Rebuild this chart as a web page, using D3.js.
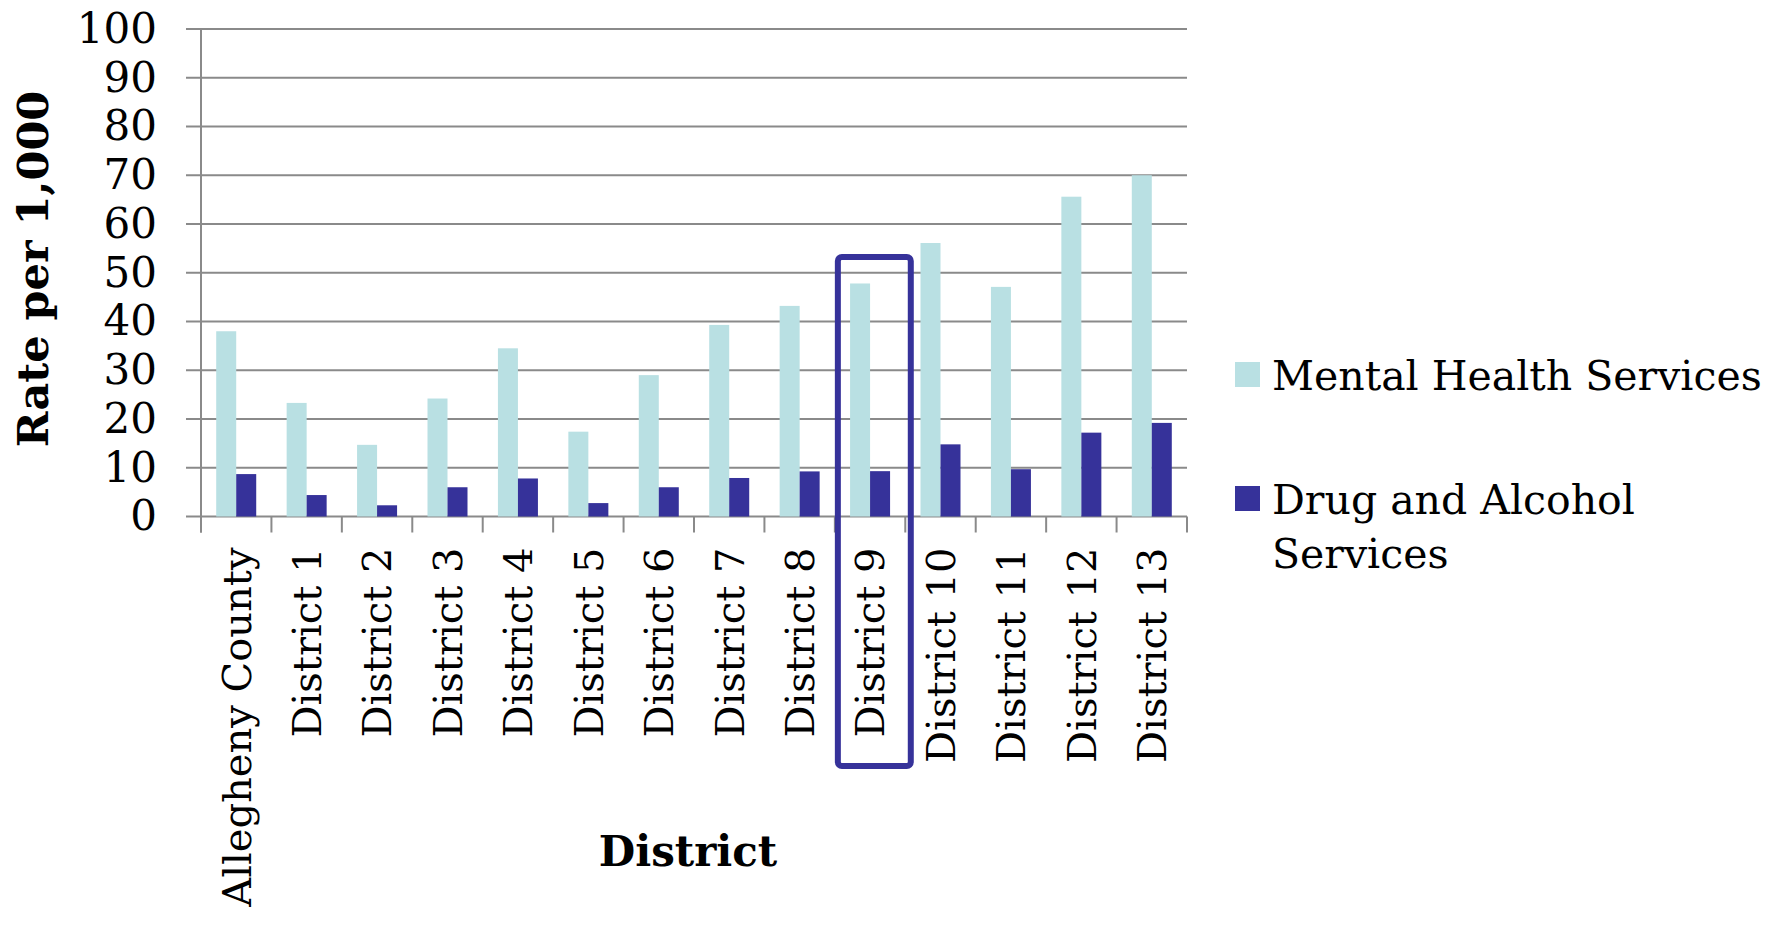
<!DOCTYPE html>
<html>
<head>
<meta charset="utf-8">
<script src="https://cdn.jsdelivr.net/npm/d3@7"></script>
<style>
  body { margin: 0; background: #fff; }
  svg { display: block; font-family: 'DejaVu Serif', 'Liberation Serif', serif; }
</style>
</head>
<body>
<svg id="chart" width="1777" height="930"></svg>
<script>
const categories = ['Allegheny County', 'District 1', 'District 2', 'District 3', 'District 4',
  'District 5', 'District 6', 'District 7', 'District 8', 'District 9', 'District 10',
  'District 11', 'District 12', 'District 13'];
const seriesNames = ['Mental Health Services', 'Drug and Alcohol Services'];
const mentalHealth = [38.0, 23.3, 14.7, 24.2, 34.5, 17.4, 29.0, 39.3, 43.2, 47.8, 56.1, 47.1, 65.6, 70.0];
const drugAlcohol = [8.7, 4.4, 2.3, 6.0, 7.8, 2.75, 6.0, 7.9, 9.25, 9.3, 14.8, 9.7, 17.2, 19.2];
const yTicks = [0, 10, 20, 30, 40, 50, 60, 70, 80, 90, 100];
const highlighted = 'District 9';

const colors = ['#b9e0e3', '#36329a'];
const gridColor = '#8a8a8a';

const plotLeft = 201, plotRight = 1187, plotTop = 29, plotBottom = 516.5;

const svg = d3.select('#chart');

const x0 = d3.scaleBand().domain(categories).range([plotLeft, plotRight]).padding(0);
const x1 = d3.scaleBand().domain(seriesNames)
  .range([x0.bandwidth() * 0.216, x0.bandwidth() * 0.784]).padding(0);
const y = d3.scaleLinear().domain([0, 100]).range([plotBottom, plotTop]);

// gridlines
svg.append('g')
  .selectAll('line')
  .data(yTicks)
  .join('line')
    .attr('x1', plotLeft - 15)
    .attr('x2', plotRight)
    .attr('y1', d => y(d))
    .attr('y2', d => y(d))
    .attr('stroke', gridColor)
    .attr('stroke-width', 2);

// y axis labels
const yAxis = svg.append('g')
  .attr('transform', `translate(${plotLeft},0)`)
  .call(d3.axisLeft(y).tickValues(yTicks).tickSize(0).tickPadding(44));
yAxis.select('.domain').remove();
yAxis.selectAll('text')
  .attr('font-family', 'DejaVu Serif')
  .attr('font-size', 42)
  .attr('fill', '#000');

// bars
const rows = categories.map((c, i) => ({ c, values: [mentalHealth[i], drugAlcohol[i]] }));
svg.append('g')
  .selectAll('g')
  .data(rows)
  .join('g')
    .attr('transform', d => `translate(${x0(d.c)},0)`)
  .selectAll('rect')
  .data(d => d.values.map((v, k) => ({ key: seriesNames[k], v, k })))
  .join('rect')
    .attr('x', d => x1(d.key))
    .attr('width', x1.bandwidth())
    .attr('y', d => y(d.v))
    .attr('height', d => y(0) - y(d.v))
    .attr('fill', d => colors[d.k]);

// axis lines and category ticks
svg.append('line')
  .attr('x1', plotLeft).attr('x2', plotLeft)
  .attr('y1', plotTop).attr('y2', plotBottom + 16)
  .attr('stroke', gridColor).attr('stroke-width', 2);
const bounds = categories.map(c => x0(c)).concat([plotRight]);
svg.append('g')
  .selectAll('line')
  .data(bounds)
  .join('line')
    .attr('x1', d => d).attr('x2', d => d)
    .attr('y1', plotBottom).attr('y2', plotBottom + 16)
    .attr('stroke', gridColor).attr('stroke-width', 2);

// x axis labels
const xAxis = svg.append('g')
  .attr('transform', `translate(0,${plotBottom})`)
  .call(d3.axisBottom(x0).tickSize(0));
xAxis.select('.domain').remove();
xAxis.selectAll('text')
  .attr('font-family', 'DejaVu Serif')
  .attr('font-size', 40)
  .attr('fill', '#000')
  .attr('text-anchor', 'end')
  .attr('transform', 'rotate(-90)')
  .attr('x', -31)
  .attr('y', 0)
  .attr('dy', '0.36em');

// highlight box around District 9
svg.append('rect')
  .attr('x', x0(highlighted) + 3)
  .attr('y', 257)
  .attr('width', x0.step() + 2.5)
  .attr('height', 509)
  .attr('rx', 4)
  .attr('fill', 'none')
  .attr('stroke', colors[1])
  .attr('stroke-width', 6);

// axis titles
svg.append('text')
  .attr('transform', 'rotate(-90)')
  .attr('x', -269)
  .attr('y', 48)
  .attr('text-anchor', 'middle')
  .attr('font-size', 43)
  .attr('font-weight', 'bold')
  .text('Rate per 1,000');

svg.append('text')
  .attr('x', 688)
  .attr('y', 866)
  .attr('text-anchor', 'middle')
  .attr('font-size', 42)
  .attr('font-weight', 'bold')
  .text('District');

// legend
const legendItems = [
  { lines: ['Mental Health Services'], y: 362 },
  { lines: ['Drug and Alcohol', 'Services'], y: 486 },
];
const legend = svg.append('g');
legendItems.forEach((item, i) => {
  legend.append('rect')
    .attr('x', 1235).attr('y', item.y)
    .attr('width', 25).attr('height', 25)
    .attr('fill', colors[i]);
  const t = legend.append('text')
    .attr('x', 1272)
    .attr('y', item.y + 28)
    .attr('font-size', 41);
  item.lines.forEach((line, j) => {
    t.append('tspan')
      .attr('x', 1272)
      .attr('dy', j === 0 ? 0 : 53.5)
      .text(line);
  });
});
</script>
</body>
</html>
